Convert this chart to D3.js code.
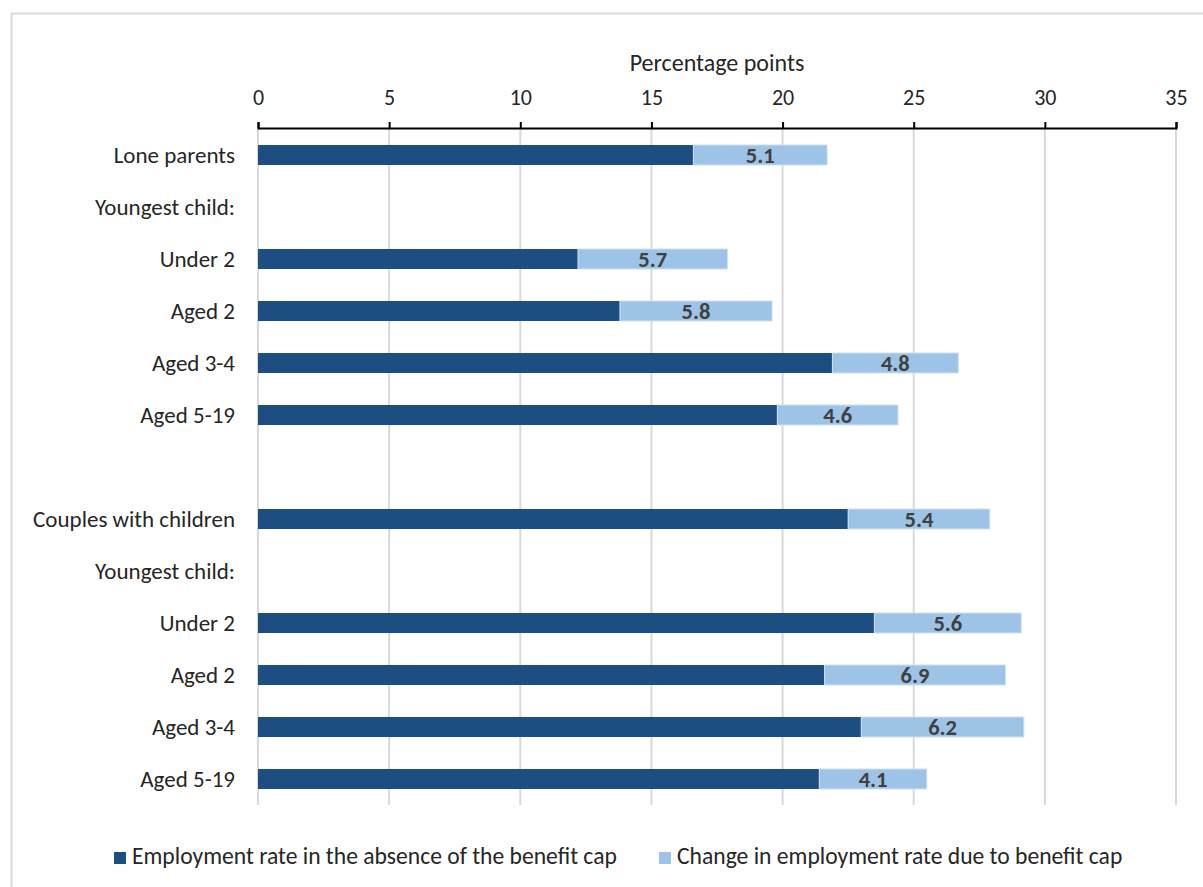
<!DOCTYPE html>
<html>
<head>
<meta charset="utf-8">
<script src="https://cdn.jsdelivr.net/npm/d3@7"></script>
<style>
  html, body { margin: 0; padding: 0; background: #fff; }
  svg { display: block; font-family: Carlito, Calibri, Lato, "Open Sans", sans-serif; }
</style>
</head>
<body>
<svg id="chart" width="1203" height="887"></svg>
<script>
// Row labels (top to bottom); empty strings are spacer / heading rows without bars
const categories = [
  "Lone parents", "Youngest child:", "Under 2", "Aged 2", "Aged 3-4", "Aged 5-19", "",
  "Couples with children", "Youngest child:", "Under 2", "Aged 2", "Aged 3-4", "Aged 5-19"
];
// Employment rate in the absence of the benefit cap (null = no bar)
const baseRate = [16.6, null, 12.2, 13.8, 21.9, 19.8, null, 22.5, null, 23.5, 21.6, 23.0, 21.4];
// Change in employment rate due to benefit cap
const capChange = [5.1, null, 5.7, 5.8, 4.8, 4.6, null, 5.4, null, 5.6, 6.9, 6.2, 4.1];
const xTicks = [0, 5, 10, 15, 20, 25, 30, 35];
const seriesNames = ["Employment rate in the absence of the benefit cap", "Change in employment rate due to benefit cap"];
const colors = ["#1D4E81", "#9DC3E6"];

(function draw() {
  const svg = d3.select("#chart");
  const plotLeft = 258, plotRight = 1176, plotTop = 129, plotBottom = 805, axisY = 128;
  const textColor = "#262626";

  // outer chart border
  svg.append("rect").attr("x", 11.5).attr("y", 13.5).attr("width", 1200).attr("height", 890)
    .attr("fill", "#fff").attr("stroke", "#d9d9d9").attr("stroke-width", 2);

  const x = d3.scaleLinear().domain([0, 35]).range([plotLeft, plotRight]);
  const y = d3.scaleBand().domain(d3.range(categories.length)).range([plotTop, plotBottom])
    .paddingInner(0.615).paddingOuter(0.3075);

  // vertical gridlines
  svg.append("g").selectAll("line").data(xTicks).join("line")
    .attr("x1", d => x(d)).attr("x2", d => x(d))
    .attr("y1", axisY).attr("y2", plotBottom)
    .attr("stroke", "#d9d9d9").attr("stroke-width", 2);

  // top axis
  const axis = d3.axisTop(x).tickValues(xTicks).tickSize(6).tickPadding(17).tickFormat(d3.format("d"));
  const ag = svg.append("g").attr("transform", `translate(0,${axisY})`).call(axis);
  ag.attr("font-family", null).attr("font-size", null);
  ag.select(".domain").attr("stroke", "#000").attr("stroke-width", 2);
  ag.selectAll(".tick line").attr("stroke", "#000").attr("stroke-width", 2);
  ag.selectAll(".tick text").attr("font-size", 22).attr("fill", textColor);

  svg.append("text").attr("x", (plotLeft + plotRight) / 2).attr("y", 71).attr("text-anchor", "middle")
    .attr("font-size", 24).attr("fill", textColor).text("Percentage points");

  // category labels
  svg.append("g").selectAll("text").data(categories).join("text")
    .attr("x", 235).attr("y", (d, i) => y(i) + y.bandwidth() / 2)
    .attr("dy", "0.35em").attr("text-anchor", "end")
    .attr("font-size", 23).attr("fill", textColor).text(d => d);

  const rows = categories.map((c, i) => ({ i, base: baseRate[i], change: capChange[i] }))
    .filter(d => d.base != null);

  // base segment
  svg.append("g").selectAll("rect").data(rows).join("rect")
    .attr("x", x(0)).attr("y", d => y(d.i))
    .attr("width", d => x(d.base) - x(0)).attr("height", y.bandwidth())
    .attr("fill", colors[0]);

  // change segment
  svg.append("g").selectAll("rect").data(rows).join("rect")
    .attr("x", d => x(d.base)).attr("y", d => y(d.i))
    .attr("width", d => x(d.base + d.change) - x(d.base)).attr("height", y.bandwidth())
    .attr("fill", colors[1]).attr("stroke", "#cfe2f3").attr("stroke-width", 1);

  // value labels on change segment
  svg.append("g").selectAll("text").data(rows).join("text")
    .attr("x", d => x(d.base + d.change / 2)).attr("y", d => y(d.i) + y.bandwidth() / 2)
    .attr("dy", "0.36em").attr("text-anchor", "middle")
    .attr("font-size", 22.5).attr("font-weight", "bold").attr("fill", "#404040")
    .text(d => d3.format(".1f")(d.change));

  // legend
  const legend = svg.append("g");
  const legendX = [114, 659];
  seriesNames.forEach((name, k) => {
    legend.append("rect").attr("x", legendX[k]).attr("y", 852).attr("width", 12).attr("height", 12).attr("fill", colors[k]);
    legend.append("text").attr("x", legendX[k] + 18).attr("y", 864)
      .attr("font-size", 23.6).attr("fill", textColor).text(name);
  });
})();
</script>
</body>
</html>
